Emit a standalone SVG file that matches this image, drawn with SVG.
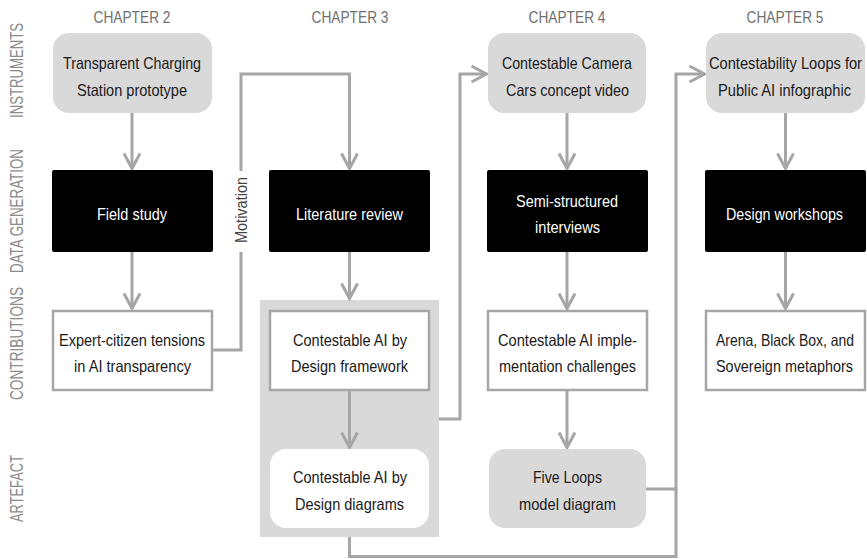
<svg xmlns="http://www.w3.org/2000/svg" width="867" height="559" viewBox="0 0 867 559">
<style>
text{font-family:"Liberation Sans",Arial,sans-serif;font-size:16.5px;text-anchor:middle}
.t{fill:#1a1a1a}
.w{fill:#ffffff}
.ch{fill:#707070;font-size:16.5px}
.row{fill:#8c8c8c;font-size:17.5px}
.inst{fill:#d9d9d9}
.blk{fill:#000000}
.con{fill:#ffffff;stroke:#a6a6a6;stroke-width:2.5}
.art{fill:#d9d9d9}
.ln{fill:none;stroke:#a6a6a6;stroke-width:3}
.ar{marker-end:url(#arr)}
</style>
<defs>
<marker id="arr" markerUnits="userSpaceOnUse" markerWidth="24" markerHeight="24" viewBox="-18 -12 24 24" refX="0" refY="0" orient="auto">
<path d="M-15,-8 L0,0 L-15,8" fill="none" stroke="#a6a6a6" stroke-width="3"/>
</marker>
</defs>
<rect width="867" height="559" fill="#ffffff"/>
<g id="chapters">
<text class="ch" x="132" y="22.5" textLength="77" lengthAdjust="spacingAndGlyphs">CHAPTER 2</text>
<text class="ch" x="350" y="22.5" textLength="77" lengthAdjust="spacingAndGlyphs">CHAPTER 3</text>
<text class="ch" x="567" y="22.5" textLength="77" lengthAdjust="spacingAndGlyphs">CHAPTER 4</text>
<text class="ch" x="785" y="22.5" textLength="77" lengthAdjust="spacingAndGlyphs">CHAPTER 5</text>
</g>
<g id="rows">
<text class="row" transform="translate(23,70.5) rotate(-90)" textLength="95" lengthAdjust="spacingAndGlyphs">INSTRUMENTS</text>
<text class="row" transform="translate(23,211) rotate(-90)" textLength="124" lengthAdjust="spacingAndGlyphs">DATA GENERATION</text>
<text class="row" transform="translate(23,343.5) rotate(-90)" textLength="113" lengthAdjust="spacingAndGlyphs">CONTRIBUTIONS</text>
<text class="row" transform="translate(23,488.5) rotate(-90)" textLength="67" lengthAdjust="spacingAndGlyphs">ARTEFACT</text>
</g>
<g id="container3"><rect x="260" y="300" width="179" height="237" fill="#d9d9d9"/></g>
<g id="connectors">
<line class="ln ar" x1="132" y1="113" x2="132" y2="168.5"/>
<line class="ln ar" x1="132" y1="252" x2="132" y2="308.5"/>
<line class="ln ar" x1="349.5" y1="252" x2="349.5" y2="298.5"/>
<line class="ln ar" x1="349.5" y1="390" x2="349.5" y2="447.5"/>
<line class="ln ar" x1="567" y1="113" x2="567" y2="168.5"/>
<line class="ln ar" x1="567" y1="252" x2="567" y2="308.5"/>
<line class="ln ar" x1="567" y1="390" x2="567" y2="447.5"/>
<line class="ln ar" x1="785.5" y1="113" x2="785.5" y2="168.5"/>
<line class="ln ar" x1="785.5" y1="252" x2="785.5" y2="308.5"/>
<path class="ln ar" d="M212,350 H241 V74 H349.5 V168.5"/>
<path class="ln ar" d="M439,419 H460 V74 H486.5"/>
<path class="ln ar" d="M646,489 H676 V74 H704.5"/>
<path class="ln" d="M349.5,537 V556.5 H676 V489"/>
<rect x="232" y="171" width="18" height="81" fill="#ffffff"/>
<text class="t" transform="translate(247,210) rotate(-90)" style="font-size:16.5px;fill:#444444" textLength="66" lengthAdjust="spacingAndGlyphs">Motivation</text>
</g>
<g id="n-inst2"><rect class="inst" x="53" y="33" width="159" height="80" rx="16"/><text class="t" x="132" y="68.5" textLength="138" lengthAdjust="spacingAndGlyphs">Transparent Charging</text><text class="t" x="132" y="95.5" textLength="110" lengthAdjust="spacingAndGlyphs">Station prototype</text></g>
<g id="n-inst4"><rect class="inst" x="488" y="33" width="158" height="80" rx="16"/><text class="t" x="567" y="68.5" textLength="130" lengthAdjust="spacingAndGlyphs">Contestable Camera</text><text class="t" x="567.5" y="95.5" textLength="123" lengthAdjust="spacingAndGlyphs">Cars concept video</text></g>
<g id="n-inst5"><rect class="inst" x="706" y="33" width="159" height="80" rx="16"/><text class="t" x="785.5" y="68.5" textLength="153" lengthAdjust="spacingAndGlyphs">Contestability Loops for</text><text class="t" x="784.5" y="95.5" textLength="133" lengthAdjust="spacingAndGlyphs">Public AI infographic</text></g>
<g id="n-data2"><rect class="blk" x="52" y="170" width="161" height="82" rx="2"/><text class="w" x="132" y="220" textLength="70" lengthAdjust="spacingAndGlyphs">Field study</text></g>
<g id="n-data3"><rect class="blk" x="269" y="170" width="161" height="82" rx="2"/><text class="w" x="349.5" y="220" textLength="107" lengthAdjust="spacingAndGlyphs">Literature review</text></g>
<g id="n-data4"><rect class="blk" x="487" y="170" width="161" height="82" rx="2"/><text class="w" x="567" y="206.5" textLength="102" lengthAdjust="spacingAndGlyphs">Semi-structured</text><text class="w" x="567.5" y="233" textLength="65" lengthAdjust="spacingAndGlyphs">interviews</text></g>
<g id="n-data5"><rect class="blk" x="705" y="170" width="161" height="82" rx="2"/><text class="w" x="784.5" y="220" textLength="117" lengthAdjust="spacingAndGlyphs">Design workshops</text></g>
<g id="n-con2"><rect class="con" x="53" y="311" width="159" height="79"/><text class="t" x="132" y="345.5" textLength="146" lengthAdjust="spacingAndGlyphs">Expert-citizen tensions</text><text class="t" x="132.5" y="372" textLength="117" lengthAdjust="spacingAndGlyphs">in AI transparency</text></g>
<g id="n-con3"><rect class="con" x="270" y="311" width="159" height="79"/><text class="t" x="350" y="345.5" textLength="114" lengthAdjust="spacingAndGlyphs">Contestable AI by</text><text class="t" x="349.5" y="372" textLength="117" lengthAdjust="spacingAndGlyphs">Design framework</text></g>
<g id="n-con4"><rect class="con" x="488" y="311" width="159" height="79"/><text class="t" x="567.5" y="345.5" textLength="139" lengthAdjust="spacingAndGlyphs">Contestable AI imple-</text><text class="t" x="567.5" y="372" textLength="137" lengthAdjust="spacingAndGlyphs">mentation challenges</text></g>
<g id="n-con5"><rect class="con" x="706" y="311" width="159" height="79"/><text class="t" x="785" y="345.5" textLength="138" lengthAdjust="spacingAndGlyphs">Arena, Black Box, and</text><text class="t" x="784.5" y="372" textLength="137" lengthAdjust="spacingAndGlyphs">Sovereign metaphors</text></g>
<g id="n-art3"><rect x="270" y="449" width="159" height="79" rx="16" fill="#ffffff"/><text class="t" x="350" y="483" textLength="114" lengthAdjust="spacingAndGlyphs">Contestable AI by</text><text class="t" x="349.5" y="510" textLength="109" lengthAdjust="spacingAndGlyphs">Design diagrams</text></g>
<g id="n-art4"><rect class="art" x="489" y="449" width="157" height="79" rx="16"/><text class="t" x="567.5" y="483" textLength="69" lengthAdjust="spacingAndGlyphs">Five Loops</text><text class="t" x="567.5" y="510" textLength="97" lengthAdjust="spacingAndGlyphs">model diagram</text></g>
</svg>
